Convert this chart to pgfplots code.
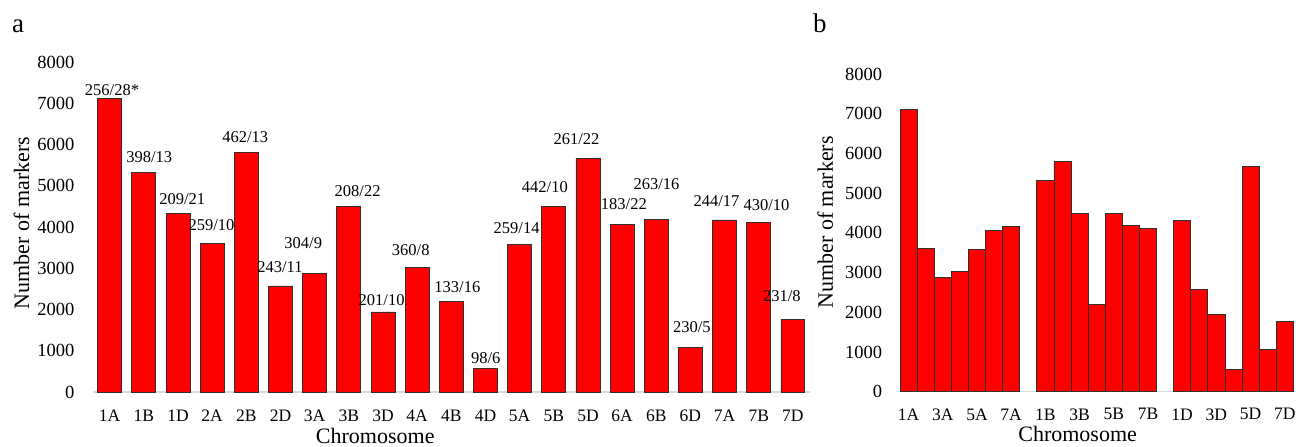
\documentclass[border=0pt]{standalone}
\usepackage{pgfplots}
\pgfplotsset{compat=1.18}
\usepackage{fontspec}
\setmainfont{Liberation Serif}
\definecolor{bargray}{HTML}{303030}
\definecolor{axgray}{HTML}{D9D9D9}
\definecolor{barred}{HTML}{FF0000}
\pgfplotsset{
  myaxis/.style={
    scale only axis, anchor=south west, clip=false,
    ymin=0, ymax=8000, ytick={0,1000,...,8000},
    axis x line=bottom, axis y line=left,
    x axis line style={draw=axgray, line width=1.4pt, -},
    y axis line style={draw=none, -},
    major tick length=0pt, tick style={draw=none},
    scaled y ticks=false,
    /pgf/number format/1000 sep={},
    /pgf/number format/assume math mode=true,
    yticklabel style={font=\fontsize{18.5}{20}\selectfont, inner sep=0pt, anchor=east},
    xticklabel style={font=\fontsize{17.5}{19}\selectfont, inner sep=0pt, anchor=north},
    xlabel={Chromosome}, ylabel={Number of markers},
  }
}
\begin{document}
\begin{tikzpicture}
\useasboundingbox (0,0) rectangle (1309pt,447pt);
\node[anchor=base west, inner sep=0pt, font=\fontsize{27}{30}\selectfont] at (12pt,414pt) {a};
\node[anchor=base west, inner sep=0pt, font=\fontsize{27}{30}\selectfont] at (813pt,414pt) {b};
% Panel a
\begin{axis}[myaxis,
  at={(92.6pt,55pt)}, width=717.4pt, height=330pt,
  xmin=-0.5, xmax=20.5,
  xtick={0,...,20},
  xticklabels={1A,1B,1D,2A,2B,2D,3A,3B,3D,4A,4B,4D,5A,5B,5D,6A,6B,6D,7A,7B,7D},
  yticklabel style={xshift=-18pt},
  xticklabel style={yshift=-18pt},
  every axis x label/.style={at={(axis description cs:0.394,-0.133)}, anchor=center, inner sep=0pt, font=\fontsize{22}{24}\selectfont},
  every axis y label/.style={at={(axis description cs:-0.099,0.512)}, rotate=90, anchor=center, inner sep=0pt, font=\fontsize{22}{24}\selectfont},
]
\addplot[ybar, bar width=0.7, fill=barred, draw=bargray, line width=0.8pt] table {
x y
0 7110
1 5330
2 4320
3 3610
4 5800
5 2570
6 2870
7 4490
8 1940
9 3020
10 2200
11 570
12 3580
13 4490
14 5670
15 4070
16 4190
17 1070
18 4170
19 4120
20 1760
};
\addplot[draw=none, mark=none, nodes near coords, point meta=explicit symbolic,
  nodes near coords style={anchor=center, inner sep=0pt, text=black, font=\fontsize{16.5}{18}\selectfont}]
  table[meta=label] {
x y label
0.067 7321 256/28*
1.159 5697 398/13
2.122 4679 209/21
2.979 4048 259/10
3.968 6170 462/13
4.984 3030 243/11
5.666 3600 304/9
7.258 4873 208/22
7.960 2218 201/10
8.812 3430 360/8
10.178 2545 133/16
11.007 817 98/6
11.911 3976 259/14
12.739 4958 442/10
13.667 6133 261/22
15.051 4558 183/22
16.008 5042 263/16
17.041 1576 230/5
17.764 4630 244/17
19.227 4521 430/10
19.675 2327 231/8
};
\end{axis}
% Panel b
\begin{axis}[myaxis,
  at={(898.3pt,55.3pt)}, width=396.7pt, height=317.7pt,
  xmin=-0.6, xmax=22.6,
  xtick={0,2,4,6,8,10,12,14,16,18,20,22},
  xticklabels={1A,3A,5A,7A,1B,3B,5B,7B,1D,3D,5D,7D},
  yticklabel style={xshift=-16pt},
  xticklabel style={yshift=-16.6pt},
  every axis x label/.style={at={(axis description cs:0.452,-0.134)}, anchor=center, inner sep=0pt, font=\fontsize{22}{24}\selectfont},
  every axis y label/.style={at={(axis description cs:-0.184,0.533)}, rotate=90, anchor=center, inner sep=0pt, font=\fontsize{22}{24}\selectfont},
]
\addplot[ybar, bar width=1, fill=barred, draw=bargray, line width=0.8pt] table {
x y
0 7110
1 3610
2 2870
3 3020
4 3580
5 4070
6 4170
8 5330
9 5800
10 4490
11 2200
12 4490
13 4190
14 4120
16 4320
17 2570
18 1940
19 570
20 5670
21 1070
22 1760
};
\end{axis}
\end{tikzpicture}
\end{document}
